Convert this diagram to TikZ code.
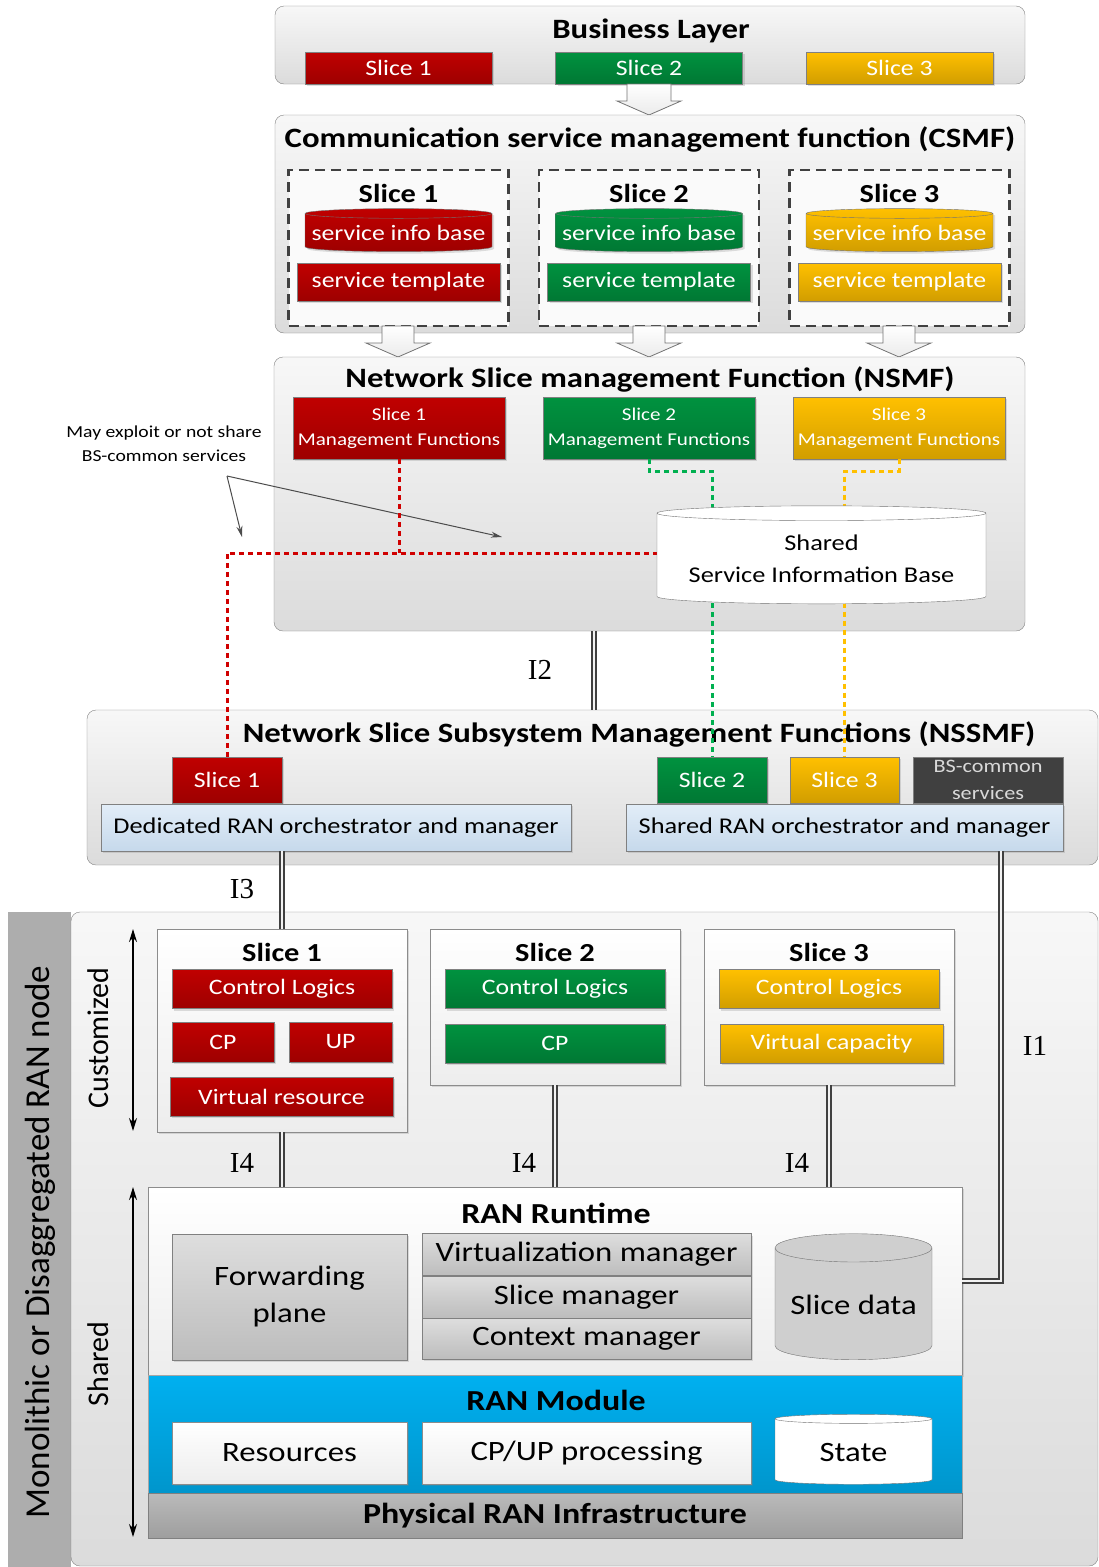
\documentclass[tikz,border=0pt]{standalone}
\usepackage{fontspec}
\setmainfont{Carlito}[FakeStretch=1.17]
\newfontfamily\plainsans{Carlito}
\newfontfamily\ifacefont{Liberation Serif}
\usetikzlibrary{shapes.geometric, arrows.meta, shadows}
\pgfdeclarelayer{wires}
\pgfdeclarelayer{top}
\pgfsetlayers{main,wires,top}

\definecolor{sred}{HTML}{C00000}
\definecolor{sgreen}{HTML}{00923F}
\definecolor{syellow}{HTML}{FFC000}
\definecolor{modblue}{HTML}{00B0F0}
\definecolor{orchtop}{HTML}{E2EDF8}
\definecolor{orchbot}{HTML}{C6D9EB}
\definecolor{dotred}{HTML}{D00000}
\definecolor{dotgreen}{HTML}{00B050}
\definecolor{dotyellow}{HTML}{FFC000}

\tikzset{
  soft/.style={drop shadow={opacity=0.25, shadow xshift=2pt, shadow yshift=-2pt}},
  layer/.style={draw=black!50, rounded corners=9pt, top color=black!3, bottom color=black!14},
  ltitle/.style={font=\bfseries\fontsize{28}{32}\selectfont},
  stitle/.style={font=\bfseries\fontsize{26}{30}\selectfont},
  colbox/.style={soft, draw=black!50, top color=#1, bottom color=#1!82!black, text=white,
    font=\fontsize{22}{26}\selectfont, inner sep=1pt},
  slicewrap/.style={draw=black!75, line width=2.2pt, dash pattern=on 10pt off 6pt, fill=black!2},
  whitebox/.style={soft, draw=black!45, top color=white, bottom color=black!7, inner sep=1pt,
    font=\fontsize{28}{32}\selectfont},
  graybox/.style={soft, draw=black!50, top color=black!13, bottom color=black!26, inner sep=1pt,
    font=\fontsize{28}{30}\selectfont},
  orch/.style={soft, draw=black!50, top color=orchtop, bottom color=orchbot, inner sep=1pt,
    font=\fontsize{22.5}{26}\selectfont},
  dbase/.style={cylinder, shape border rotate=90, aspect=#1, draw=black!55, inner sep=1pt},
  fatarrow/.style={draw=black!55, line width=0.8pt, top color=white, bottom color=black!8},
  ifline/.style={draw=black!75, line width=1.4pt, double=black!5, double distance=2.8pt},
  iflabel/.style={font=\ifacefont\fontsize{29}{33}\selectfont},
  dotline/.style={draw=#1, line width=3pt, dash pattern=on 5pt off 4pt},
  notearrow/.style={draw=black!70, line width=1pt, -{Stealth[length=11pt,width=6pt]}},
  span/.style={line width=1.6pt, {Stealth[length=13pt,width=8pt]}-{Stealth[length=13pt,width=8pt]}},
}

% x, top y, bottom y, half shaft width
\newcommand{\fatdown}[4]{%
  \draw[fatarrow] (#1-#4,#2) -- (#1+#4,#2) -- (#1+#4,#3-14) -- (#1+32,#3-14)
    -- (#1,#3) -- (#1-32,#3-14) -- (#1-#4,#3-14) -- cycle;}

\begin{document}
\begin{tikzpicture}[x=1pt, y=-1pt]
  \useasboundingbox (0,0) rectangle (1099,1567);

  % business layer
  \node (bl) [layer, minimum width=750pt, minimum height=78pt] at (650,45) {};
  \node (blt) [ltitle] at (651,31) {Business Layer};
  \foreach \i/\x/\col in {1/398.5/sred, 2/649/sgreen, 3/899.5/syellow}
    \node (bs\i) [colbox=\col, minimum width=187pt, minimum height=32pt] at (\x,68) {Slice \i};
  \fatdown{649}{84}{115}{22}

  % CSMF
  \node (csmf) [layer, minimum width=750pt, minimum height=218pt] at (650,224) {};
  \node (csmft) [ltitle] at (650,139) {Communication service management function (CSMF)};
  \foreach \i/\x/\col in {1/398.5/sred, 2/649/sgreen, 3/899.5/syellow} {
    \node (cw\i) [slicewrap, minimum width=220pt, minimum height=156pt] at (\x,248) {};
    \node (cwt\i) [stitle] at (\x,193) {Slice \i};
    \node (sib\i) [colbox=\col, dbase=0.055, minimum width=187pt, minimum height=43pt] at (\x,233) {service info base};
    \node (tpl\i) [colbox=\col, minimum width=203pt, minimum height=38pt] at (\x,282) {service template};
  }
  \foreach \x in {398,649,899} {\fatdown{\x}{326}{357}{16}}

  % NSMF
  \node (nsmf) [layer, minimum width=751pt, minimum height=274pt] at (649.5,494) {};
  \node (nsmft) [ltitle] at (650,379) {Network Slice management Function (NSMF)};
  \foreach \i/\x/\col in {1/399/sred, 2/649/sgreen, 3/899/syellow}
    \node (mf\i) [colbox=\col, minimum width=212pt, minimum height=62pt, align=center,
      font=\fontsize{18}{25}\selectfont] at (\x,428) {Slice \i\\Management Functions};
  \begin{pgfonlayer}{top}
    \node (ssib) [dbase=0.055, fill=white, minimum width=329pt, minimum height=98pt, align=center,
      font=\fontsize{22.5}{32}\selectfont] at (821.5,559) {Shared\\Service Information Base};
  \end{pgfonlayer}

  \node (note) [align=center, font=\fontsize{16.8}{24}\selectfont] at (164,444) {May exploit or not share\\BS-common services};
  \coordinate (fork) at (227,476);
  \coordinate (tipa) at (242,537);
  \coordinate (tipb) at (502,537);
  \draw [notearrow] (fork) -- (tipa);
  \draw [notearrow] (fork) -- (tipb);

  % NSSMF
  \node (nssmf) [layer, minimum width=1011pt, minimum height=155pt] at (592.5,787.5) {};
  \node (nssmft) [ltitle] at (639,734) {Network Slice Subsystem Management Functions (NSSMF)};
  \node (ns1) [colbox=sred, minimum width=110pt, minimum height=46pt] at (227,780) {Slice 1};
  \node (ns2) [colbox=sgreen, minimum width=110pt, minimum height=46pt] at (712,780) {Slice 2};
  \node (ns3) [colbox=syellow, minimum width=109pt, minimum height=46pt] at (844.5,780) {Slice 3};
  \node (bsc) [draw=black!50, fill=black!75, text=black!15, inner sep=0pt, minimum width=150pt,
    minimum height=46pt, align=center, font=\fontsize{19}{27}\selectfont] at (988,780) {BS-common\\services};
  \node (dedi) [orch, minimum width=470pt, minimum height=47pt] at (336,827.5) {Dedicated RAN orchestrator and manager};
  \node (shrd) [orch, minimum width=437pt, minimum height=47pt] at (844.5,827.5) {Shared RAN orchestrator and manager};

  \begin{pgfonlayer}{wires}
    \draw [dotline=dotred] (mf1.south) -- (mf1.south |- 0,553);
    \draw [dotline=dotred] (ns1.north) |- (ssib.west |- 0,553);
    \draw [dotline=dotgreen] (mf2.south) -- ++(0,12) -| (ns2.north);
    \draw [dotline=dotyellow] (mf3.south) -- ++(0,12) -| (ns3.north);
  \end{pgfonlayer}

  % RAN node
  \node (sidebar) [fill=black!32, inner sep=0pt, minimum width=63pt, minimum height=655pt] at (39.5,1239.5) {};
  \node (ranbox) [layer, minimum width=1027pt, minimum height=654pt] at (584.5,1239) {};
  \node (side) [rotate=90, font=\plainsans\fontsize{35}{40}\selectfont] at (40,1242) {Monolithic or Disaggregated RAN node};
  \node (cust) [rotate=90, font=\plainsans\fontsize{30}{34}\selectfont] at (98,1038) {Customized};
  \node (shr) [rotate=90, font=\plainsans\fontsize{30}{34}\selectfont] at (98,1364) {Shared};
  \coordinate (ca) at (133,929);
  \coordinate (cb) at (133,1131);
  \coordinate (sa) at (133,1187);
  \coordinate (sb) at (133,1537);
  \draw [span] (ca) -- (cb);
  \draw [span] (sa) -- (sb);

  \node (ls1) [whitebox, minimum width=250pt, minimum height=203pt] at (282,1030.5) {};
  \node (ls2) [whitebox, minimum width=250pt, minimum height=156pt] at (555,1007) {};
  \node (ls3) [whitebox, minimum width=250pt, minimum height=156pt] at (829,1007) {};
  \foreach \i/\x/\col in {1/282/sred, 2/555/sgreen, 3/829/syellow} {
    \node (lst\i) [stitle] at (\x,952) {Slice \i};
    \node (cl\i) [colbox=\col, minimum width=220pt, minimum height=39pt] at (\x,989) {Control Logics};
  }
  \node (cp1) [colbox=sred, minimum width=102pt, minimum height=40pt] at (223,1042) {CP};
  \node (up1) [colbox=sred, minimum width=103pt, minimum height=40pt] at (340.5,1042) {UP};
  \node (vr1) [colbox=sred, minimum width=223pt, minimum height=39pt] at (281.5,1096.5) {Virtual resource};
  \node (cp2) [colbox=sgreen, minimum width=220pt, minimum height=39pt] at (555,1043.5) {CP};
  \node (vc3) [colbox=syellow, minimum width=223pt, minimum height=39pt] at (831.5,1043.5) {Virtual capacity};

  \node (rt) [whitebox, minimum width=814pt, minimum height=188pt] at (555,1281) {};
  \node (rtt) [font=\bfseries\fontsize{29}{32}\selectfont] at (556,1213) {RAN Runtime};
  \node (fwd) [graybox, minimum width=235pt, minimum height=126pt, align=center,
    font=\fontsize{28}{37}\selectfont] at (289.5,1297) {Forwarding\\plane};
  \node (vm) [graybox, minimum width=329pt, minimum height=42pt] at (586.5,1254.5) {Virtualization manager};
  \node (sm) [graybox, minimum width=329pt, minimum height=42pt] at (586.5,1297) {Slice manager};
  \node (cm) [graybox, minimum width=329pt, minimum height=41pt] at (586.5,1338.5) {Context manager};
  \node (sdata) [dbase=0.22, fill=black!19, minimum width=157pt, minimum height=126pt,
    font=\fontsize{28}{32}\selectfont] at (853.5,1305) {Slice data};

  \node (mod) [draw=black!35, top color=modblue, bottom color=modblue!85!black, minimum width=814pt,
    minimum height=118pt] at (555,1434) {};
  \node (modt) [font=\bfseries\fontsize{29}{32}\selectfont] at (556,1400) {RAN Module};
  \node (res) [whitebox, minimum width=235pt, minimum height=62pt] at (289.5,1453) {Resources};
  \node (cpup) [whitebox, minimum width=329pt, minimum height=62pt] at (586.5,1453) {CP/UP processing};
  \node (state) [dbase=0.13, fill=white, minimum width=157pt, minimum height=70pt,
    font=\fontsize{28}{32}\selectfont] at (853.5,1452) {State};
  \node (phy) [draw=black!50, top color=black!27, bottom color=black!38, minimum width=814pt,
    minimum height=45pt, font=\bfseries\fontsize{29}{32}\selectfont] at (555,1515.5) {Physical RAN Infrastructure};

  % interfaces
  \coordinate (i2top) at ([xshift=-55.5pt]nsmf.south);
  \coordinate (i1top) at ([xshift=156.5pt]shrd.south);
  \draw [ifline] (i2top) -- (i2top |- nssmf.north);
  \draw [ifline] (ls1.north |- dedi.south) -- (ls1.north);
  \draw [ifline] (i1top) |- (rt.east);
  \foreach \i in {1,2,3}
    \draw [ifline] (ls\i.south) -- (ls\i.south |- rt.north);
  \node (i2) [iflabel] at (540,670) {I2};
  \node (i3) [iflabel] at (242,889) {I3};
  \node (i1) [iflabel] at (1035,1046) {I1};
  \node (i4a) [iflabel] at (242,1163) {I4};
  \node (i4b) [iflabel] at (524,1163) {I4};
  \node (i4c) [iflabel] at (797,1163) {I4};
\end{tikzpicture}
\end{document}
